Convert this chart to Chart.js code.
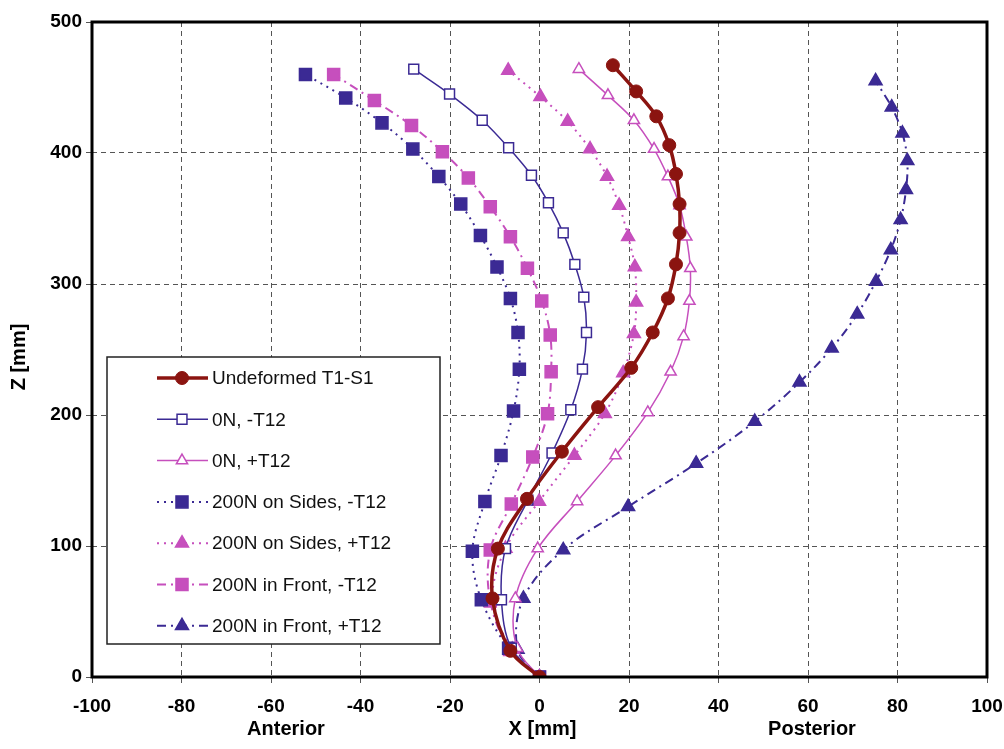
<!DOCTYPE html>
<html><head><meta charset="utf-8">
<script src="https://cdn.jsdelivr.net/npm/chart.js@4/dist/chart.umd.min.js"></script>
<style>html,body{margin:0;padding:0;background:#fff}#wrap{width:1004px;height:749px;position:relative}</style>
</head><body><div id="wrap"><canvas id="c" width="1004" height="749"></canvas></div>
<script>
const seriesNames = ["Undeformed T1-S1","0N, -T12","0N, +T12","200N on Sides, -T12","200N on Sides, +T12","200N in Front, -T12","200N in Front, +T12"];

const undefX = [0,-6.5,-10.5,-9.3,-2.8,5.0,13.1,20.5,25.3,28.7,30.5,31.3,31.3,30.5,29.0,26.1,21.6,16.4];
const undefZ = [0,20,60,98,136,172,206,236,263,289,315,339,361,384,406,428,447,467];

const n0mX = [0,-6.3,-8.5,-7.6,-2.6,2.8,7.0,9.6,10.5,9.9,7.9,5.3,2.0,-1.8,-6.9,-12.8,-20.1,-28.1];
const n0mZ = [0,22,59,98,135,171,204,235,263,290,315,339,362,383,404,425,445,464];

const n0pX = [0,-5.0,-5.4,-0.4,8.4,17.0,24.2,29.3,32.2,33.5,33.7,32.8,31.3,28.7,25.6,21.1,15.3,8.8];
const n0pZ = [0,22,60,98,134,169,202,233,260,287,312,336,360,382,403,425,444,464];

const sidesMX = [0,-6.9,-13.0,-15.0,-12.2,-8.6,-5.8,-4.5,-4.8,-6.5,-9.5,-13.2,-17.6,-22.5,-28.3,-35.2,-43.3,-52.3];
const sidesMZ = [0,22,59,96,134,169,203,235,263,289,313,337,361,382,403,423,442,460];

const sidesPX = [0,-6.1,-10.5,-7.6,-0.1,7.8,14.6,18.7,21.1,21.6,21.3,19.8,17.8,15.1,11.3,6.3,0.2,-7.0];
const sidesPZ = [0,21,58,98,134,169,201,232,262,286,313,336,360,382,403,424,443,463];

const frontMX = [0,-6.7,-11.0,-11.0,-6.3,-1.5,1.8,2.6,2.4,0.5,-2.7,-6.5,-11.0,-15.9,-21.7,-28.6,-36.9,-46.0];
const frontMZ = [0,21,58,97,132,168,201,233,261,287,312,336,359,381,401,421,440,460];

const frontPX = [0,-4.9,-3.6,5.3,19.8,35.0,48.1,58.1,65.3,71.0,75.2,78.5,80.7,81.9,82.2,81.1,78.7,75.1];
const frontPZ = [0,21,60,97,130,163,195,225,251,277,302,326,349,372,394,415,435,455];

const xTicks = [-100,-80,-60,-40,-20,0,20,40,60,80,100];
const zTicks = [0,100,200,300,400,500];

const RED = '#8b1410', BLUE = '#3b2a94', PINK = '#c64fbd';
const pts = (xs, zs) => xs.map((x, i) => ({x: x, y: zs[i]}));

const styles = [
  {c: RED, w: 3.5, dash: [], ps: 'circle', r: 6.5, fill: RED},
  {c: BLUE, w: 1.5, dash: [], ps: 'rect', r: 7, fill: '#fff'},
  {c: PINK, w: 1.5, dash: [], ps: 'triangle', r: 6.5, fill: '#fff'},
  {c: BLUE, w: 2, dash: [2, 5], ps: 'rect', r: 8.5, fill: BLUE},
  {c: PINK, w: 2, dash: [2, 5], ps: 'triangle', r: 7.5, fill: PINK},
  {c: PINK, w: 2, dash: [9, 5, 2, 5], ps: 'rect', r: 8.5, fill: PINK},
  {c: BLUE, w: 2, dash: [9, 5, 2, 5], ps: 'triangle', r: 7.5, fill: BLUE}
];
const dataSets = [pts(undefX, undefZ), pts(n0mX, n0mZ), pts(n0pX, n0pZ), pts(sidesMX, sidesMZ), pts(sidesPX, sidesPZ), pts(frontMX, frontMZ), pts(frontPX, frontPZ)];

const datasets = dataSets.map((d, i) => ({
  label: seriesNames[i], data: d, showLine: true, tension: 0.35,
  borderColor: styles[i].c, borderWidth: styles[i].w, borderDash: styles[i].dash,
  pointStyle: styles[i].ps, pointRadius: styles[i].r, pointHoverRadius: styles[i].r,
  pointBackgroundColor: styles[i].fill, pointBorderColor: styles[i].c,
  pointBorderWidth: i === 0 ? 1 : 1.5
}));

const FONT = '"Liberation Sans", Arial, sans-serif';

const decor = {
  id: 'decor',
  afterDraw(chart) {
    const ctx = chart.ctx, a = chart.chartArea;
    ctx.save();
    ctx.strokeStyle = '#000'; ctx.lineWidth = 3; ctx.setLineDash([]);
    ctx.strokeRect(a.left, a.top, a.right - a.left, a.bottom - a.top);
    ctx.fillStyle = '#000';
    ctx.font = 'bold 20px ' + FONT;
    ctx.textAlign = 'center'; ctx.textBaseline = 'middle';
    const xs = chart.scales.x;
    ctx.fillText('Anterior', 286, 729);
    ctx.fillText('X [mm]', xs.getPixelForValue(0) + 3, 729);
    ctx.fillText('Posterior', 812, 729);
    ctx.save();
    ctx.translate(19, 357); ctx.rotate(-Math.PI / 2);
    ctx.fillText('Z [mm]', 0, 0);
    ctx.restore();
    const L = 107, T = 357, R = 440, B = 644;
    ctx.fillStyle = '#fff'; ctx.fillRect(L, T, R - L, B - T);
    ctx.strokeStyle = '#222'; ctx.lineWidth = 1.5;
    ctx.strokeRect(L, T, R - L, B - T);
    ctx.font = '19px ' + FONT; ctx.textAlign = 'left';
    chart.data.datasets.forEach((ds, i) => {
      const y = 378 + i * 41.3;
      ctx.strokeStyle = ds.borderColor; ctx.lineWidth = ds.borderWidth;
      ctx.setLineDash(ds.borderDash);
      ctx.beginPath(); ctx.moveTo(157, y); ctx.lineTo(208, y); ctx.stroke();
      ctx.setLineDash([]);
      ctx.fillStyle = ds.pointBackgroundColor; ctx.strokeStyle = ds.pointBorderColor;
      ctx.lineWidth = ds.pointBorderWidth;
      Chart.helpers.drawPoint(ctx, {pointStyle: ds.pointStyle, radius: ds.pointRadius, rotation: 0, borderWidth: ds.pointBorderWidth}, 182, y);
      ctx.fillStyle = '#111';
      ctx.fillText(ds.label, 212, y + 1);
    });
    ctx.restore();
  }
};

new Chart(document.getElementById('c'), {
  type: 'scatter',
  data: {datasets},
  options: {
    responsive: false, animation: false,
    layout: {padding: {top: 22, right: 17, left: 0, bottom: 0}},
    plugins: {legend: {display: false}, tooltip: {enabled: false}},
    scales: {
      x: {
        type: 'linear', min: -100, max: 100,
        afterBuildTicks: s => { s.ticks = xTicks.map(v => ({value: v})); },
        afterFit: s => { s.height = 72; s.paddingLeft = 0; s.paddingRight = 0; },
        grid: {color: '#555', lineWidth: 1, tickLength: 6},
        border: {display: false, dash: [5, 4]},
        ticks: {color: '#000', font: {family: FONT, size: 19, weight: 'bold'}, padding: 12, maxRotation: 0}
      },
      y: {
        type: 'linear', min: 0, max: 500,
        afterBuildTicks: s => { s.ticks = zTicks.map(v => ({value: v})); },
        afterFit: s => { s.width = 92; s.paddingTop = 0; s.paddingBottom = 0; },
        grid: {color: '#555', lineWidth: 1, tickLength: 6},
        border: {display: false, dash: [5, 4]},
        ticks: {color: '#000', font: {family: FONT, size: 19, weight: 'bold'}, padding: 4}
      }
    }
  },
  plugins: [decor]
});
</script></body></html>
